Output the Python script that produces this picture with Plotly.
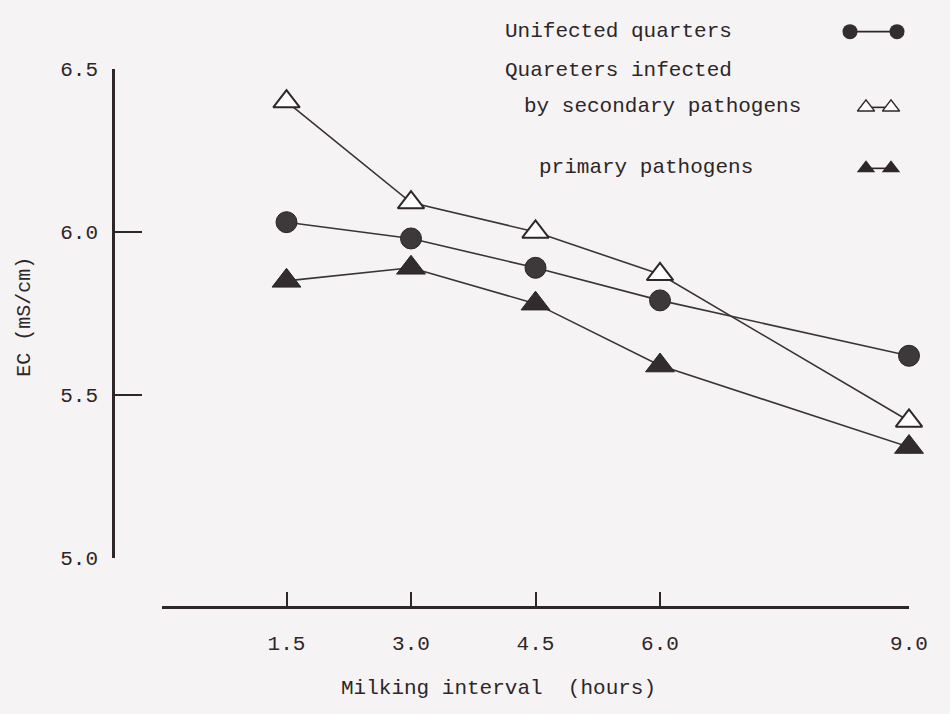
import plotly.graph_objects as go

# ---- data ----
intervals = [1.5, 3.0, 4.5, 6.0, 9.0]
uninfected = [6.03, 5.98, 5.89, 5.79, 5.62]
secondary = [6.40, 6.09, 6.00, 5.87, 5.42]
primary = [5.85, 5.89, 5.78, 5.59, 5.34]

x_tickvals = [0, 1.5, 3.0, 4.5, 6.0, 9.0]
x_ticktext = ["", "1.5", "3.0", "4.5", "6.0", "9.0"]
y_tickvals = [5.0, 5.5, 6.0, 6.5]
y_ticktext = ["5.0", "5.5", "6.0", "6.5"]

legend_lines = ["Unifected quarters", "Quareters infected",
                "by secondary pathogens", "primary pathogens"]
x_title = "Milking interval  (hours)"
y_title = "EC (mS/cm)"

# ---- styling ----
W, H = 950, 714
ML, MR, MT, MB = 113, 41, 0, 107
PW, PH = W - ML - MR, H - MT - MB
INK = "#2e2628"
LINE = "#3b3335"
BG = "#f5f3f3"
FONT = "Liberation Mono, DejaVu Sans Mono, monospace"

fig = go.Figure()

line_style = dict(color=LINE, width=1.6)
fig.add_trace(go.Scatter(x=intervals, y=uninfected, mode="lines+markers",
                         line=line_style, cliponaxis=False,
                         marker=dict(symbol="circle", size=21, color="#3d3839",
                                     line=dict(color="#2a2426", width=1))))
fig.add_trace(go.Scatter(x=intervals, y=secondary, mode="lines+markers",
                         line=line_style, cliponaxis=False,
                         marker=dict(symbol="triangle-up", size=23, color="#ffffff",
                                     line=dict(color=INK, width=2))))
fig.add_trace(go.Scatter(x=intervals, y=primary, mode="lines+markers",
                         line=line_style, cliponaxis=False,
                         marker=dict(symbol="triangle-up", size=25, color="#332c2e",
                                     line=dict(color="#2a2426", width=1))))

# ---- legend keys on a pixel-mapped auxiliary axis pair ----
key_style = dict(color=INK, width=1.6)
fig.add_trace(go.Scatter(x=[850, 897], y=[22, 22], xaxis="x2", yaxis="y2",
                         mode="lines+markers", line=key_style, cliponaxis=False,
                         marker=dict(symbol="circle", size=15, color="#332d2f")))
fig.add_trace(go.Scatter(x=[866, 891], y=[99, 99], xaxis="x2", yaxis="y2",
                         mode="lines+markers", line=key_style, cliponaxis=False,
                         marker=dict(symbol="triangle-up", size=15, color="#ffffff",
                                     line=dict(color=INK, width=1.5))))
fig.add_trace(go.Scatter(x=[866, 891], y=[161, 161], xaxis="x2", yaxis="y2",
                         mode="lines+markers", line=key_style, cliponaxis=False,
                         marker=dict(symbol="triangle-up", size=16, color="#2e2729")))

legend_pos = [(503, 22), (503, 61), (522, 98), (537, 160)]
annotations = []
for txt, (px, py) in zip(legend_lines, legend_pos):
    annotations.append(dict(x=px, y=py, xref="x2", yref="y2", text=txt,
                            showarrow=False, xanchor="left", yanchor="middle",
                            font=dict(family=FONT, size=21, color=INK)))
# axis titles in paper coordinates (pixel positions converted)
annotations.append(dict(x=(498 - ML) / PW, y=(PH - 690) / PH, xref="paper",
                        yref="paper", text=x_title,
                        showarrow=False, xanchor="center", yanchor="middle",
                        font=dict(family=FONT, size=21, color=INK)))
annotations.append(dict(x=(25 - ML) / PW, y=(PH - 312) / PH, xref="paper",
                        yref="paper", text=y_title,
                        showarrow=False, textangle=-90, xanchor="center",
                        yanchor="middle",
                        font=dict(family=FONT, size=20, color=INK)))

fig.update_layout(
    width=W, height=H,
    margin=dict(l=ML, r=MR, t=MT, b=MB, pad=0),
    paper_bgcolor=BG, plot_bgcolor="rgba(0,0,0,0)",
    showlegend=False,
    annotations=annotations,
    xaxis=dict(domain=[49 / PW, 1], range=[0, 9], anchor="free", position=0,
               showline=True, linecolor=INK, linewidth=2.6,
               ticks="inside", ticklen=14, tickwidth=2.4, tickcolor=INK,
               tickvals=x_tickvals, ticktext=x_ticktext,
               ticklabelstandoff=16,
               tickfont=dict(family=FONT, size=21, color=INK),
               showgrid=False, zeroline=False),
    yaxis=dict(domain=[50 / PH, 547 / PH], range=[5.0, 6.5], anchor="free",
               position=0,
               showline=True, linecolor=INK, linewidth=2.6,
               ticks="inside", ticklen=27, tickwidth=2.4, tickcolor=INK,
               tickvals=y_tickvals, ticktext=y_ticktext,
               ticklabelstandoff=10,
               tickfont=dict(family=FONT, size=21, color=INK),
               showgrid=False, zeroline=False),
    xaxis2=dict(domain=[0, 1], range=[ML, ML + PW], anchor="y2", visible=False),
    yaxis2=dict(domain=[0, 1], range=[PH, 0], anchor="x2", visible=False),
)

fig.write_html("out.html")
